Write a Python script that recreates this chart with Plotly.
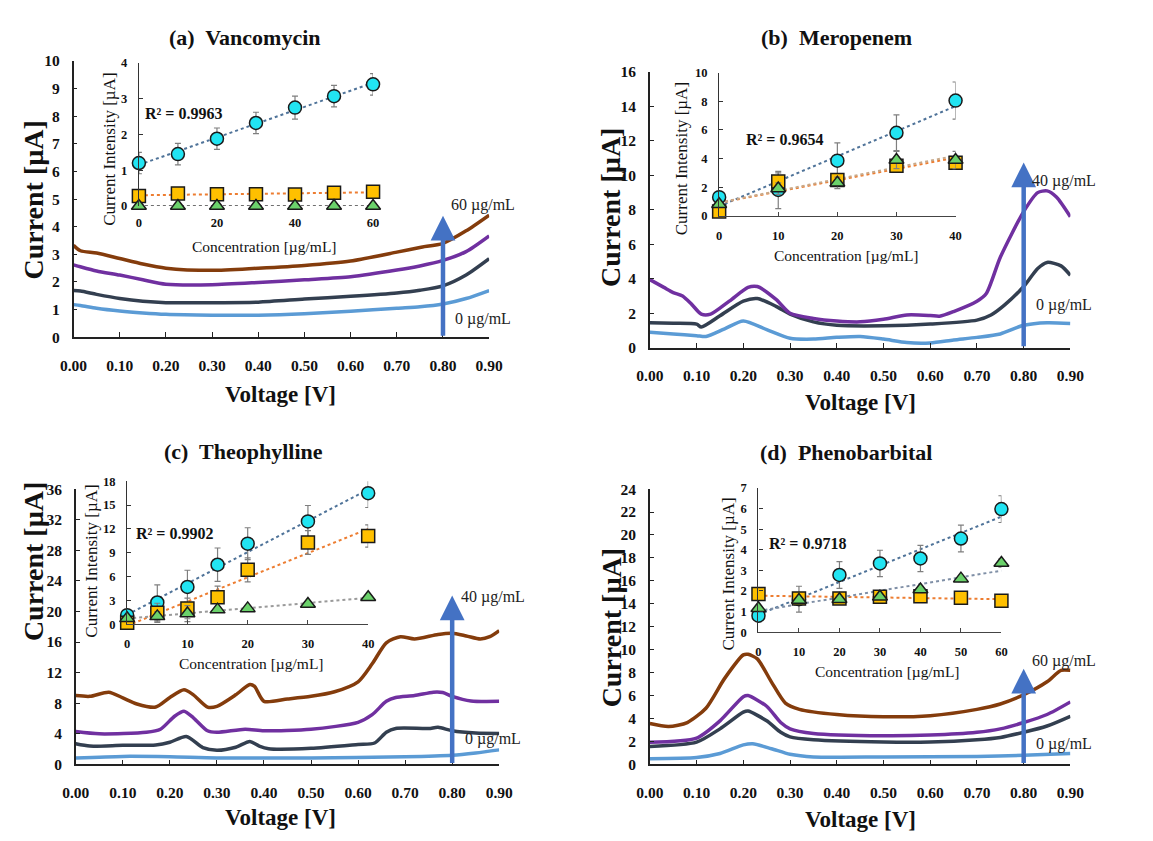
import numpy as np
import plotly.graph_objects as go

W, H = 1153, 841

# ---------------- DATA ----------------
# Panel (a) Vancomycin: voltammograms
a_V = [0, 0.015, 0.05, 0.1, 0.15, 0.2, 0.3, 0.4, 0.5, 0.6, 0.7, 0.75, 0.8, 0.85, 0.9]
a_c0 = [1.18, 1.15, 1.05, 0.95, 0.88, 0.83, 0.8, 0.8, 0.85, 0.94, 1.05, 1.1, 1.2, 1.4, 1.69]
a_c1 = [1.69, 1.67, 1.55, 1.4, 1.3, 1.25, 1.25, 1.27, 1.38, 1.48, 1.6, 1.7, 1.86, 2.25, 2.84]
a_c2 = [2.62, 2.55, 2.4, 2.25, 2.08, 1.92, 1.9, 1.98, 2.08, 2.19, 2.43, 2.58, 2.78, 3.1, 3.67]
a_c3 = [3.33, 3.13, 3.05, 2.85, 2.65, 2.5, 2.42, 2.5, 2.6, 2.76, 3.08, 3.25, 3.4, 3.85, 4.42]

# Panel (b) Meropenem
b_V0 = [0, 0.05, 0.1, 0.12, 0.16, 0.2, 0.25, 0.3, 0.35, 0.4, 0.45, 0.5, 0.55, 0.6, 0.65, 0.7, 0.75, 0.8, 0.85, 0.9]
b_c0 = [0.9, 0.8, 0.7, 0.65, 1.1, 1.55, 1.05, 0.55, 0.5, 0.6, 0.65, 0.5, 0.3, 0.28, 0.45, 0.6, 0.8, 1.3, 1.45, 1.4]
b_V1 = [0, 0.05, 0.1, 0.11, 0.15, 0.2, 0.23, 0.27, 0.3, 0.35, 0.4, 0.5, 0.6, 0.7, 0.73, 0.76, 0.8, 0.83, 0.85, 0.88, 0.9]
b_c1 = [1.45, 1.42, 1.37, 1.2, 1.85, 2.7, 2.85, 2.4, 1.95, 1.5, 1.3, 1.27, 1.37, 1.6, 1.9, 2.5, 3.55, 4.6, 4.95, 4.75, 4.2]
b_V2 = [0, 0.03, 0.05, 0.07, 0.09, 0.11, 0.13, 0.17, 0.21, 0.23, 0.27, 0.3, 0.35, 0.4, 0.45, 0.5, 0.55, 0.6, 0.62, 0.65,
        0.7, 0.72, 0.75, 0.8, 0.83, 0.85, 0.87, 0.9]
b_c2 = [3.95, 3.5, 3.2, 3.0, 2.5, 1.95, 1.95, 2.7, 3.5, 3.55, 2.8, 2.0, 1.7, 1.55, 1.5, 1.65, 1.9, 1.87, 1.83, 2.1,
        2.7, 3.15, 5.25, 7.9, 9.0, 9.1, 8.75, 7.6]

# Panel (c) Theophylline
c_V0 = [0, 0.1, 0.2, 0.3, 0.5, 0.7, 0.8, 0.85, 0.9]
c_c0 = [0.85, 1.05, 1.0, 0.85, 0.85, 1.0, 1.2, 1.5, 1.9]
c_V1 = [0, 0.03, 0.1, 0.17, 0.2, 0.235, 0.27, 0.3, 0.34, 0.37, 0.39, 0.41, 0.5, 0.6, 0.635, 0.66, 0.68, 0.75, 0.77,
        0.8, 0.85, 0.9]
c_c1 = [2.7, 2.4, 2.5, 2.55, 2.9, 3.65, 2.2, 1.85, 2.25, 3.0, 2.4, 2.05, 2.1, 2.6, 2.8, 4.2, 4.7, 4.7, 4.85,
        4.4, 4.1, 4.05]
c_V2 = [0, 0.05, 0.15, 0.18, 0.21, 0.23, 0.25, 0.28, 0.3, 0.36, 0.4, 0.5, 0.6, 0.63, 0.66, 0.68, 0.72, 0.76, 0.78,
        0.8, 0.84, 0.9]
c_c2 = [4.3, 4.0, 4.2, 4.6, 6.3, 6.95, 6.1, 4.4, 4.2, 4.6, 4.4, 4.6, 5.5, 6.5, 8.25, 8.75, 9.0, 9.45, 9.4,
        8.9, 8.3, 8.25]
c_V3 = [0, 0.03, 0.07, 0.1, 0.13, 0.17, 0.2, 0.23, 0.25, 0.28, 0.3, 0.34, 0.37, 0.38, 0.4, 0.45, 0.5, 0.55, 0.6,
        0.63, 0.66, 0.69, 0.72, 0.77, 0.8, 0.83, 0.86, 0.88, 0.9]
c_c3 = [9.0, 8.9, 9.45, 8.7, 7.9, 7.5, 8.75, 9.75, 9.1, 7.5, 7.6, 9.1, 10.45, 10.2, 8.25, 8.55, 8.9, 9.5, 10.8,
        13.15, 15.9, 16.7, 16.4, 17.0, 17.15, 16.8, 16.4, 16.7, 17.5]

# Panel (d) Phenobarbital
d_V0 = [0, 0.1, 0.15, 0.2, 0.22, 0.26, 0.3, 0.35, 0.5, 0.7, 0.8, 0.9]
d_c0 = [0.5, 0.6, 0.95, 1.7, 1.8, 1.37, 0.88, 0.65, 0.65, 0.7, 0.8, 0.95]
d_V1 = [0, 0.1, 0.15, 0.2, 0.21, 0.25, 0.28, 0.3, 0.35, 0.5, 0.6, 0.7, 0.75, 0.8, 0.85, 0.9]
d_c1 = [1.57, 1.94, 3.1, 4.55, 4.65, 3.8, 2.8, 2.4, 2.15, 1.95, 1.95, 2.15, 2.35, 2.8, 3.35, 4.2]
d_c2 = [1.94, 2.3, 3.8, 5.9, 6.0, 5.07, 3.65, 3.1, 2.7, 2.5, 2.56, 2.8, 3.1, 3.65, 4.35, 5.45]
d_V3 = [0, 0.04, 0.08, 0.12, 0.16, 0.2, 0.21, 0.23, 0.26, 0.29, 0.32, 0.4, 0.5, 0.6, 0.7, 0.75, 0.8, 0.85, 0.88, 0.9]
d_c3 = [3.56, 3.3, 3.65, 4.9, 7.5, 9.55, 9.6, 9.2, 7.2, 5.35, 4.8, 4.35, 4.15, 4.25, 4.8, 5.27, 6.07, 7.2, 8.2, 8.2]

# Insets: calibration data
a_conc = [0, 10, 20, 30, 40, 50, 60]
a_cyan = [1.2, 1.45, 1.88, 2.32, 2.75, 3.07, 3.4]
a_cyan_err = [0.3, 0.3, 0.3, 0.3, 0.32, 0.3, 0.3]
a_orange = [0.28, 0.35, 0.33, 0.33, 0.32, 0.37, 0.4]
a_orange_err = [0.05, 0.05, 0.05, 0.05, 0.05, 0.05, 0.05]
a_green = [0.0, 0.0, 0.0, 0.0, 0.0, 0.0, 0.0]
a_green_err = [0.02, 0.02, 0.02, 0.02, 0.02, 0.02, 0.02]

b_conc = [0, 10, 20, 30, 40]
b_cyan = [1.3, 1.8, 3.85, 5.8, 8.05]
b_cyan_err = [0.3, 1.3, 1.25, 1.25, 1.3]
b_orange = [0.3, 2.4, 2.5, 3.5, 3.7]
b_orange_err = [0.2, 0.6, 0.4, 0.4, 0.4]
b_green = [0.8, 1.9, 2.3, 3.9, 3.9]
b_green_err = [0.2, 0.4, 0.4, 0.6, 0.6]

c_conc = [0, 5, 10, 15, 20, 30, 40]
c_cyan = [1.15, 2.75, 4.7, 7.5, 10.15, 12.95, 16.5]
c_cyan_err = [0.4, 2.2, 2.1, 2.1, 2.0, 2.0, 1.8]
c_orange = [0.2, 1.45, 2.0, 3.4, 6.85, 10.3, 11.1]
c_orange_err = [0.3, 1.2, 1.3, 1.4, 1.5, 1.5, 1.4]
c_green = [0.75, 1.0, 1.35, 1.85, 2.0, 2.55, 3.4]
c_green_err = [0.2, 0.6, 1.0, 0.3, 0.3, 0.3, 0.3]

d_conc = [0, 10, 20, 30, 40, 50, 60]
d_cyan = [0.8, 1.6, 2.78, 3.34, 3.58, 4.55, 5.98]
d_cyan_err = [0.3, 0.63, 0.65, 0.64, 0.64, 0.65, 0.65]
d_orange = [1.85, 1.64, 1.64, 1.72, 1.75, 1.67, 1.53]
d_orange_err = [0.1, 0.1, 0.1, 0.1, 0.1, 0.1, 0.1]
d_green = [1.16, 1.56, 1.6, 1.72, 2.07, 2.6, 3.36]
d_green_err = [0.1, 0.1, 0.1, 0.1, 0.15, 0.15, 0.2]

titles = ["(a)  Vancomycin", "(b)  Meropenem", "(c)  Theophylline", "(d)  Phenobarbital"]
r2_labels = ["R² = 0.9963", "R² = 0.9654", "R² = 0.9902", "R² = 0.9718"]
high_labels = ["60 µg/mL", "40 µg/mL", "40 µg/mL", "60 µg/mL"]
low_label = "0 µg/mL"

# ---------------- STYLE ----------------
C_LB, C_NV, C_PU, C_BR = "#5B9BD5", "#333F50", "#7030A0", "#843C0C"
C_ARROW = "#4472C4"
SERIF = "Liberation Serif"

def px(x):
    return x / W

def py(y):
    return 1 - y / H

fig = go.Figure()

def curve(V, I, color, xa, ya):
    fig.add_trace(go.Scatter(x=V, y=I, mode="lines", line=dict(color=color, width=3.5, shape="spline", smoothing=0.7),
                             xaxis=xa, yaxis=ya, showlegend=False, hoverinfo="skip"))

# main curves
curve(a_V, a_c0, C_LB, "x", "y"); curve(a_V, a_c1, C_NV, "x", "y")
curve(a_V, a_c2, C_PU, "x", "y"); curve(a_V, a_c3, C_BR, "x", "y")
curve(b_V0, b_c0, C_LB, "x2", "y2"); curve(b_V1, b_c1, C_NV, "x2", "y2"); curve(b_V2, b_c2, C_PU, "x2", "y2")
curve(c_V0, c_c0, C_LB, "x3", "y3"); curve(c_V1, c_c1, C_NV, "x3", "y3")
curve(c_V2, c_c2, C_PU, "x3", "y3"); curve(c_V3, c_c3, C_BR, "x3", "y3")
curve(d_V0, d_c0, C_LB, "x4", "y4"); curve(d_V1, d_c1, C_NV, "x4", "y4")
curve(d_V1, d_c2, C_PU, "x4", "y4"); curve(d_V3, d_c3, C_BR, "x4", "y4")

def trend(conc, vals, color, xa, ya):
    k, b = np.polyfit(conc, vals, 1)
    xs = [min(conc), max(conc)]
    fig.add_trace(go.Scatter(x=xs, y=[k * v + b for v in xs], mode="lines",
                             line=dict(color=color, width=2, dash="dot"), xaxis=xa, yaxis=ya,
                             showlegend=False, hoverinfo="skip", cliponaxis=False))

def points(conc, vals, err, symbol, color, xa, ya):
    fig.add_trace(go.Scatter(x=conc, y=vals, mode="markers",
                             marker=dict(symbol=symbol, size=13, color=color, line=dict(color="#1a1a1a", width=1.5)),
                             error_y=dict(type="data", array=err, color="#7f7f7f", thickness=1.2, width=3),
                             xaxis=xa, yaxis=ya, showlegend=False, cliponaxis=False))

C_CY, C_OR, C_GR = "#22E4F2", "#FFC000", "#6BD26B"
T_CY, T_OR, T_GR = "#4F7399", "#ED7D31", "#9A9A9A"

insets = [
    (a_conc, a_cyan, a_cyan_err, a_orange, a_orange_err, a_green, a_green_err, "x5", "y5", "#707070"),
    (b_conc, b_cyan, b_cyan_err, b_orange, b_orange_err, b_green, b_green_err, "x6", "y6", "#C8A888"),
    (c_conc, c_cyan, c_cyan_err, c_orange, c_orange_err, c_green, c_green_err, "x7", "y7", T_GR),
    (d_conc, d_cyan, d_cyan_err, d_orange, d_orange_err, d_green, d_green_err, "x8", "y8", "#7F8FA6"),
]
for conc, cy, cye, orr, ore, gr, gre, xa, ya, gcol in insets:
    trend(conc, cy, T_CY, xa, ya)
    trend(conc, orr, T_OR, xa, ya)
    trend(conc, gr, gcol, xa, ya)
    points(conc, cy, cye, "circle", C_CY, xa, ya)
    points(conc, orr, ore, "square", C_OR, xa, ya)
    points(conc, gr, gre, "triangle-up", C_GR, xa, ya)

# ---------------- AXES ----------------
tick_main = dict(family=SERIF, size=15.5, color="#111", weight="bold")
tick_in = dict(family=SERIF, size=12.5, color="#111", weight="bold")

def main_x(x0, x1, y_anchor):
    return dict(domain=[px(x0), px(x1)], range=[0, 0.9], dtick=0.1, tick0=0, tickformat=".2f",
                showline=True, linecolor="#222", linewidth=1.5, ticks="inside", ticklen=5, tickcolor="#222",
                showgrid=False, zeroline=False, tickfont=tick_main, ticklabelstandoff=13, anchor=y_anchor,
                fixedrange=True)

def main_y(y0, y1, rng, dt, x_anchor):
    return dict(domain=[py(y0), py(y1)], range=rng, dtick=dt, showline=True, linecolor="#222", linewidth=1.5,
                ticks="inside", ticklen=4, tickcolor="#222", showgrid=False, zeroline=False, tickfont=tick_main,
                ticklabelstandoff=9, anchor=x_anchor, fixedrange=True)

def in_x(x0, x1, rng, dt, y_anchor, show=True):
    return dict(domain=[px(x0), px(x1)], range=rng, dtick=dt, showline=show, linecolor="#444", linewidth=1.2,
                ticks="inside" if show else "", ticklen=4, tickcolor="#444", showgrid=False, zeroline=False,
                tickfont=tick_in, ticklabelstandoff=8, anchor=y_anchor, fixedrange=True)

def in_y(y0, y1, rng, dt, x_anchor):
    return dict(domain=[py(y0), py(y1)], range=rng, dtick=dt, showline=True, linecolor="#333", linewidth=1.2,
                ticks="inside", ticklen=4, tickcolor="#333", showgrid=False, zeroline=False, tickfont=tick_in,
                ticklabelstandoff=8, anchor=x_anchor, fixedrange=True)

fig.update_layout(
    width=W, height=H, margin=dict(l=0, r=0, t=0, b=0),
    paper_bgcolor="white", plot_bgcolor="rgba(0,0,0,0)", showlegend=False,
    xaxis=main_x(61, 487, "y"), yaxis=main_y(335, 53, [0, 10], 1, "x"),
    xaxis2=main_x(651.7, 1082.7, "y2"), yaxis2=main_y(345.7, 64.3, [0, 16], 2, "x2"),
    xaxis3=main_x(63.3, 497.3, "y3"), yaxis3=main_y(771, 490, [0, 36], 4, "x3"),
    xaxis4=main_x(651.7, 1082.7, "y4"), yaxis4=main_y(771, 490, [0, 24], 2, "x4"),
    xaxis5=in_x(128, 368, [0, 60], 20, "y5", show=False), yaxis5=in_y(201, 55, [0, 4], 1, "x5"),
    xaxis6=in_x(722.7, 965, [0, 40], 10, "y6"), yaxis6=in_y(211, 65, [0, 10], 2, "x6"),
    xaxis7=in_x(116, 363, [0, 40], 10, "y7"), yaxis7=in_y(628, 482, [0, 18], 3, "x7"),
    xaxis8=in_x(763, 1012, [0, 60], 10, "y8"), yaxis8=in_y(636, 489, [0, 7], 1, "x8"),
)

# ---------------- ANNOTATIONS ----------------
ann = []

def text(x, y, s, size, bold=True, angle=0, color="#111"):
    ann.append(dict(x=px(x), y=py(y), xref="paper", yref="paper", text=s, showarrow=False, textangle=angle,
                    font=dict(family=SERIF, size=size, color=color, weight="bold" if bold else "normal"),
                    xanchor="center", yanchor="middle"))

# panel titles
text(237, 29, titles[0], 22); text(843, 29, titles[1], 22)
text(235, 452, titles[2], 22); text(853, 453, titles[3], 22)
# main axis titles
for (xc, yc, xv, yv) in [(20, 195, 273, 393), (612, 203, 868, 402), (20, 564, 273, 825), (612, 632, 868, 827)]:
    text(xc, yc, "Current [µA]", 28, angle=-90)
    text(xv, yv, "Voltage [V]", 23)
# inset axis titles
for (xc, yc, xv, yv) in [(97, 143, 257, 242), (685, 153, 853, 252), (80, 564, 243, 668), (732, 577, 895, 676)]:
    text(xc, yc, "Current Intensity [µA]", 17, bold=False, angle=-90)
    text(xv, yv, "Concentration [µg/mL]", 15.5, bold=False)
# R² labels
for (xr, yr), s in zip([(174, 107), (790, 133), (165, 535), (813, 546)], r2_labels):
    text(xr, yr, s, 16)

# arrows and concentration labels (in data coordinates of main axes)
arrow_specs = [("x", "y", 4.4, 4.8, 0.65), ("x2", "y2", 10.75, 9.7, 2.5),
               ("x3", "y3", 22.1, 21.9, 3.3), ("x4", "y4", 8.35, 9.05, 1.8)]
for i, (xa, ya, tip, hi_y, lo_y) in enumerate(arrow_specs):
    ann.append(dict(x=0.8, y=tip, ax=0.8, ay=0, xref=xa, yref=ya, axref=xa, ayref=ya, text="", showarrow=True,
                    arrowhead=2, arrowsize=1.1, arrowwidth=4.5, arrowcolor=C_ARROW, standoff=0, startstandoff=0))
    ann.append(dict(x=0.887, y=hi_y, xref=xa, yref=ya, text=high_labels[i], showarrow=False, xanchor="center",
                    font=dict(family=SERIF, size=16, color="#222")))
    ann.append(dict(x=0.887, y=lo_y, xref=xa, yref=ya, text=low_label, showarrow=False, xanchor="center",
                    font=dict(family=SERIF, size=16, color="#222")))

fig.update_layout(annotations=ann)
fig.write_html("out.html")
